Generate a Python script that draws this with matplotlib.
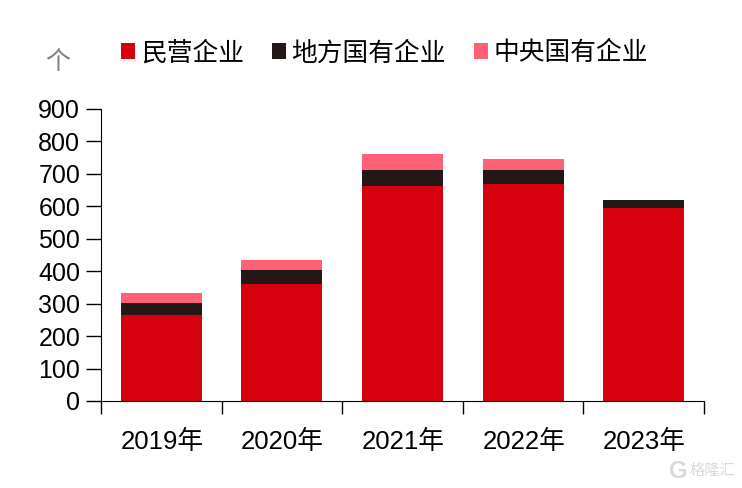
import matplotlib.pyplot as plt
import numpy as np

plt.rcParams['font.family'] = ['Liberation Sans', 'Noto Sans CJK SC']

years = ['2019年', '2020年', '2021年', '2022年', '2023年']
private = [265, 361, 663, 669, 595]
local_soe = [37, 43, 49, 43, 25]
central_soe = [31, 31, 49, 34, 1]
yticks = [0, 100, 200, 300, 400, 500, 600, 700, 800, 900]

fig = plt.figure(figsize=(7.42, 4.88), dpi=100)
ax = fig.add_axes([101 / 742, 1 - 401 / 488, 603 / 742, 292 / 488])

x = np.arange(len(years))
private = np.array(private)
local_soe = np.array(local_soe)
central_soe = np.array(central_soe)
w = 0.67
b1 = ax.bar(x, private, w, color='#D7000F', label='民营企业')
b2 = ax.bar(x, local_soe, w, bottom=private, color='#231815', label='地方国有企业')
b3 = ax.bar(x, central_soe, w, bottom=private + local_soe, color='#FF6076', label='中央国有企业')

ax.set_xlim(-0.5, 4.5)
ax.set_ylim(0, 900)
ax.set_yticks(yticks)
ax.tick_params(axis='y', labelsize=18, length=11, width=1, pad=4, direction='out')
for s in ['top', 'right']:
    ax.spines[s].set_visible(False)

# ticks sit between the categories, labels in the middle
ax.set_xticks(np.arange(-0.5, 5, 1))
ax.set_xticklabels([])
ax.tick_params(axis='x', length=9, width=1)
for i, y in enumerate(years):
    ax.text(i + 0.005, -125, y, fontsize=18.5, ha='center', va='center', clip_on=False)

ax.legend(handles=[b1, b2, b3], ncol=3, frameon=False, fontsize=18.5,
          loc='center left', bbox_to_anchor=(121 / 742, 1 - 53 / 488),
          bbox_transform=fig.transFigure, borderpad=0, borderaxespad=0,
          handlelength=0.55, handleheight=0.55, handletextpad=0.22, columnspacing=1.08)

fig.text(58 / 742, 1 - 62 / 488, '个', fontsize=18, color='#7F7F7F', ha='center', va='center')
fig.text(712 / 742, 1 - 471 / 488, '格隆汇', fontsize=11, color='#D9D9D9', ha='center', va='center')
fig.text(678 / 742, 1 - 471 / 488, 'G', fontsize=17, color='#D9D9D9', ha='center', va='center', fontweight='bold')

fig.savefig('out.png', dpi=100)
